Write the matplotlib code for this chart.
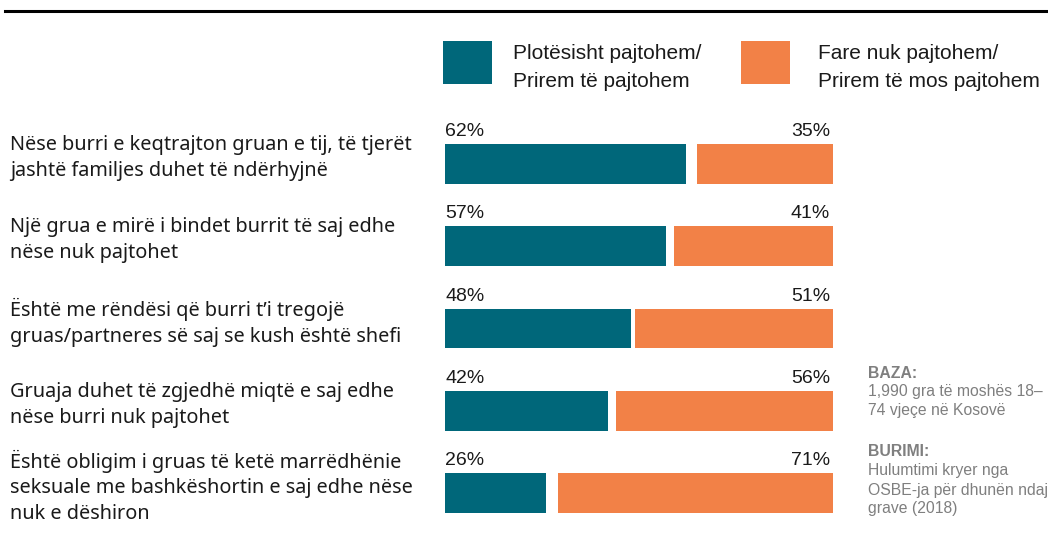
import matplotlib
matplotlib.use("Agg")
import matplotlib.pyplot as plt
from matplotlib.lines import Line2D
from matplotlib.patches import Rectangle

categories = [
    "Nëse burri e keqtrajton gruan e tij, të tjerët\njashtë familjes duhet të ndërhyjnë",
    "Një grua e mirë i bindet burrit të saj edhe\nnëse nuk pajtohet",
    "Është me rëndësi që burri t’i tregojë\ngruas/partneres së saj se kush është shefi",
    "Gruaja duhet të zgjedhë miqtë e saj edhe\nnëse burri nuk pajtohet",
    "Është obligim i gruas të ketë marrëdhënie\nseksuale me bashkëshortin e saj edhe nëse\nnuk e dëshiron",
]
agree = [62, 57, 48, 42, 26]
disagree = [35, 41, 51, 56, 71]
series_labels = ["Plotësisht pajtohem/\nPrirem të pajtohem",
                 "Fare nuk pajtohem/\nPrirem të mos pajtohem"]
note_base = ["BAZA:", "1,990 gra të moshës 18–", "74 vjeçe në Kosovë"]
note_source = ["BURIMI:", "Hulumtimi kryer nga", "OSBE-ja për dhunën ndaj", "grave (2018)"]

TEAL = "#00677A"
ORANGE = "#F28147"
GRAY = "#7f7f7f"
W, H = 1048, 538
fig = plt.figure(figsize=(W / 100, H / 100), dpi=100)
fig.patch.set_facecolor("white")

ax_left, ax_right = 445, 833
ax_top, ax_bot = 123, 534
ax = fig.add_axes([ax_left / W, 1 - ax_bot / H, (ax_right - ax_left) / W, (ax_bot - ax_top) / H])
n = len(categories)
ys = list(range(n))
bh = 40 / 82.25
ax.barh(ys, agree, height=bh, color=TEAL, left=0)
ax.barh(ys, disagree, height=bh, color=ORANGE, left=[100 - d for d in disagree])
ax.set_xlim(0, 100)
ax.set_ylim(n - 0.5, -0.5)
ax.axis("off")

NUMFONT = "Liberation Sans"
for i in ys:
    ax.annotate(f"{agree[i]}%", xy=(0, i - bh / 2), xytext=(0, 8), textcoords="offset pixels",
                ha="left", va="baseline", fontsize=14, family=NUMFONT, color="#1a1a1a")
    ax.annotate(f"{disagree[i]}%", xy=(100, i - bh / 2), xytext=(-3, 8), textcoords="offset pixels",
                ha="right", va="baseline", fontsize=14, family=NUMFONT, color="#1a1a1a")
    ax.annotate(categories[i], xy=(10, i), xycoords=("figure pixels", "data"),
                xytext=(0, 6), textcoords="offset pixels", ha="left", va="center",
                fontsize=14.3, family="Noto Sans", linespacing=1.38, color="#1a1a1a",
                annotation_clip=False)

# legend (manual, in figure pixels from top)
def fy(y):
    return 1 - y / H

for (px, tx), col, lab in zip([(443, 513), (741, 818)], [TEAL, ORANGE], series_labels):
    fig.add_artist(Rectangle((px / W, fy(83.5)), 49 / W, 42 / H, transform=fig.transFigure,
                             facecolor=col, edgecolor="none"))
    for j, line in enumerate(lab.split("\n")):
        fig.text(tx / W, fy(59.5 + j * 27.8), line, ha="left", va="baseline",
                 fontsize=15, family=NUMFONT, color="#1a1a1a")

fig.add_artist(Line2D([5 / W, 1], [fy(10.5), fy(10.5)], color="black", lw=2.2))

for block, y0, step in [(note_base, 373, 18.7), (note_source, 452, 19.0)]:
    for k, txt in enumerate(block):
        fig.text(868 / W, fy(y0 + k * step), txt, ha="left", va="center",
                 fontsize=11.3, family=NUMFONT, color=GRAY,
                 fontweight="bold" if k == 0 else "normal")

fig.savefig("out.png", dpi=100, facecolor="white")
